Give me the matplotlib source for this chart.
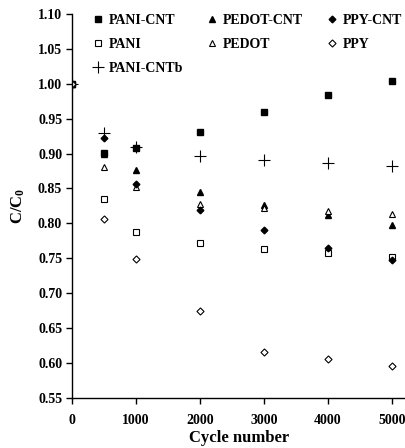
import matplotlib
matplotlib.use('Agg')
import matplotlib.pyplot as plt

# cycle numbers and normalised capacitance C/C0
cycles = [0, 500, 1000, 2000, 3000, 4000, 5000]

pani_cnt = [1.000, 0.901, 0.908, 0.931, 0.960, 0.984, 1.004]
pedot_cnt = [1.000, 0.900, 0.876, 0.845, 0.826, 0.812, 0.798]
ppy_cnt = [1.000, 0.922, 0.856, 0.819, 0.790, 0.765, 0.747]
pani = [1.000, 0.835, 0.787, 0.772, 0.763, 0.757, 0.752]
pedot = [1.000, 0.881, 0.852, 0.827, 0.822, 0.818, 0.814]
ppy = [1.000, 0.806, 0.749, 0.674, 0.615, 0.605, 0.596]
pani_cntb = [1.000, 0.930, 0.910, 0.896, 0.890, 0.886, 0.882]

plt.rcParams['font.family'] = ['Liberation Serif', 'DejaVu Serif']
plt.rcParams['font.weight'] = 'bold'
plt.rcParams['mathtext.fontset'] = 'custom'
plt.rcParams['mathtext.rm'] = 'Liberation Serif:bold'
plt.rcParams['mathtext.it'] = 'Liberation Serif:bold'

fig = plt.figure(figsize=(4.06, 4.48), dpi=100)
ax = fig.add_axes([0.177, 0.112, 0.823, 0.857])

ms = 3.8
ax.plot(cycles, pani_cnt, 's', color='black', ms=ms, label='PANI-CNT')
ax.plot(cycles, pani, 's', mfc='white', mec='black', mew=0.8, ms=ms + 0.4, label='PANI')
ax.plot(cycles, pani_cntb, '+', color='black', ms=8, mew=0.8, label='PANI-CNTb')
ax.plot(cycles, pedot_cnt, '^', color='black', ms=ms + 0.6, label='PEDOT-CNT')
ax.plot(cycles, pedot, '^', mfc='white', mec='black', mew=0.8, ms=ms + 0.8, label='PEDOT')
ax.plot(cycles, ppy_cnt, 'D', color='black', ms=ms - 0.4, label='PPY-CNT')
ax.plot(cycles, ppy, 'D', mfc='white', mec='black', mew=0.8, ms=ms - 0.2, label='PPY')

ax.set_xlim(0, 5220)
ax.set_ylim(0.55, 1.10)
ax.set_xticks([0, 1000, 2000, 3000, 4000, 5000])
ax.set_yticks([0.55, 0.60, 0.65, 0.70, 0.75, 0.80, 0.85, 0.90, 0.95, 1.00, 1.05, 1.10])
ax.set_yticklabels(['%.2f' % v for v in ax.get_yticks()])

ax.spines['top'].set_visible(False)
ax.spines['right'].set_visible(False)
ax.spines['left'].set_linewidth(1.0)
ax.spines['bottom'].set_linewidth(1.0)
ax.tick_params(direction='out', length=4, width=1.0, labelsize=10, pad=3)
ax.tick_params(axis='x', pad=8)

ax.set_xlabel('Cycle number', fontsize=12, fontweight='bold', labelpad=2)
ax.set_ylabel(r'$\mathrm{C/C_0}$', fontsize=12, labelpad=8)

leg = ax.legend(ncol=3, loc='upper left', bbox_to_anchor=(0.045, 1.015),
                frameon=False, fontsize=10, handlelength=0.8, handletextpad=0.4,
                columnspacing=1.65, labelspacing=0.8, borderaxespad=0)

fig.savefig('out.png', dpi=100)
